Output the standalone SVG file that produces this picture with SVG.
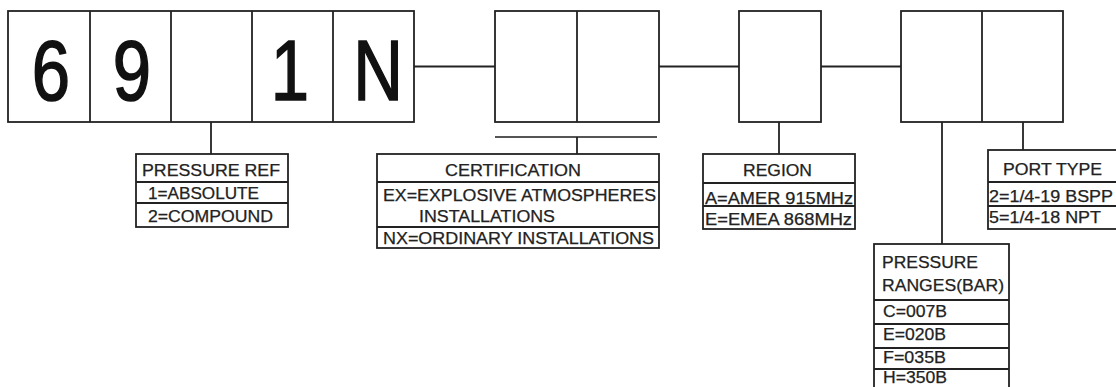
<svg xmlns="http://www.w3.org/2000/svg" width="1116" height="387" viewBox="0 0 1116 387">
<style>
.b{fill:#fff;stroke:#222;stroke-width:1.8}
.l{fill:none;stroke:#222;stroke-width:1.8}
.t{font-family:"Liberation Sans",Arial,sans-serif;font-size:16px;fill:#222;stroke:#222;stroke-width:0.25}
.d{font-family:"Liberation Sans",Arial,sans-serif;font-size:86px;fill:#111;stroke:#111;stroke-width:1.6;text-anchor:middle}
</style>
<rect width="1116" height="387" fill="#fff"/>
<g id="connectors">
<line class="l" x1="414" y1="66.5" x2="495" y2="66.5"/>
<line class="l" x1="659" y1="66.5" x2="739" y2="66.5"/>
<line class="l" x1="821" y1="66.5" x2="901" y2="66.5"/>
<line class="l" x1="211" y1="122" x2="211" y2="154"/>
<line x1="495" y1="137" x2="657" y2="137" stroke="#555" stroke-width="2"/>
<line class="l" x1="577" y1="137" x2="577" y2="154"/>
<line class="l" x1="779" y1="122" x2="779" y2="154"/>
<line class="l" x1="942" y1="122" x2="942" y2="244"/>
<line class="l" x1="1023" y1="122" x2="1023" y2="150"/>
</g>
<g id="code1">
<rect class="b" x="8" y="11" width="406" height="111"/>
<line class="l" x1="90" y1="11" x2="90" y2="122"/>
<line class="l" x1="171" y1="11" x2="171" y2="122"/>
<line class="l" x1="252" y1="11" x2="252" y2="122"/>
<line class="l" x1="333" y1="11" x2="333" y2="122"/>
<text class="d" transform="translate(51,100) scale(0.8,1)">6</text>
<text class="d" transform="translate(132,100) scale(0.8,1)">9</text>
<text class="d" transform="translate(290,100) scale(0.8,1)">1</text>
<text class="d" transform="translate(378,100) scale(0.8,1)">N</text>
</g>
<g id="code2">
<rect class="b" x="495" y="11" width="164" height="111"/>
<line class="l" x1="577" y1="11" x2="577" y2="122"/>
</g>
<g id="code3">
<rect class="b" x="739" y="11" width="82" height="111"/>
</g>
<g id="code4">
<rect class="b" x="901" y="11" width="162" height="111"/>
<line class="l" x1="982" y1="11" x2="982" y2="122"/>
</g>
<g id="pressure-ref">
<rect class="b" x="136" y="154" width="152" height="73"/>
<line class="l" x1="136" y1="182" x2="288" y2="182"/>
<line class="l" x1="136" y1="203" x2="288" y2="203"/>
<text class="t" x="142" y="176" textLength="138" lengthAdjust="spacingAndGlyphs">PRESSURE REF</text>
<text class="t" x="148" y="199" textLength="111" lengthAdjust="spacingAndGlyphs">1=ABSOLUTE</text>
<text class="t" x="148" y="222" textLength="125" lengthAdjust="spacingAndGlyphs">2=COMPOUND</text>
</g>
<g id="certification">
<rect class="b" x="377" y="154" width="282" height="94"/>
<line class="l" x1="377" y1="182" x2="659" y2="182"/>
<line class="l" x1="377" y1="227" x2="659" y2="227"/>
<text class="t" x="445" y="176" textLength="136" lengthAdjust="spacingAndGlyphs">CERTIFICATION</text>
<text class="t" x="383" y="201" textLength="273" lengthAdjust="spacingAndGlyphs">EX=EXPLOSIVE ATMOSPHERES</text>
<text class="t" x="419" y="222" textLength="136" lengthAdjust="spacingAndGlyphs">INSTALLATIONS</text>
<text class="t" x="383" y="244" textLength="271" lengthAdjust="spacingAndGlyphs">NX=ORDINARY INSTALLATIONS</text>
</g>
<g id="region">
<rect class="b" x="703" y="154" width="152" height="75"/>
<line class="l" x1="703" y1="183" x2="855" y2="183"/>
<line class="l" x1="703" y1="206" x2="855" y2="206"/>
<text class="t" x="743" y="176" textLength="69" lengthAdjust="spacingAndGlyphs">REGION</text>
<text class="t" x="705" y="204" textLength="148" lengthAdjust="spacingAndGlyphs">A=AMER 915MHz</text>
<text class="t" x="705" y="225" textLength="147" lengthAdjust="spacingAndGlyphs">E=EMEA 868MHz</text>
</g>
<g id="port-type">
<rect class="b" x="988" y="150" width="140" height="79"/>
<line class="l" x1="988" y1="182" x2="1128" y2="182"/>
<line class="l" x1="988" y1="206" x2="1128" y2="206"/>
<text class="t" x="1003" y="175" textLength="99" lengthAdjust="spacingAndGlyphs">PORT TYPE</text>
<text class="t" x="989" y="202" textLength="124" lengthAdjust="spacingAndGlyphs">2=1/4-19 BSPP</text>
<text class="t" x="989" y="223" textLength="112" lengthAdjust="spacingAndGlyphs">5=1/4-18 NPT</text>
</g>
<g id="pressure-ranges">
<rect class="b" x="874" y="244" width="135" height="160"/>
<line class="l" x1="874" y1="300" x2="1009" y2="300"/>
<line class="l" x1="874" y1="324" x2="1009" y2="324"/>
<line class="l" x1="874" y1="348" x2="1009" y2="348"/>
<line class="l" x1="874" y1="369" x2="1009" y2="369"/>
<text class="t" x="882" y="268" textLength="96" lengthAdjust="spacingAndGlyphs">PRESSURE</text>
<text class="t" x="882" y="291" textLength="122" lengthAdjust="spacingAndGlyphs">RANGES(BAR)</text>
<text class="t" x="883" y="317" textLength="64" lengthAdjust="spacingAndGlyphs">C=007B</text>
<text class="t" x="883" y="340" textLength="63" lengthAdjust="spacingAndGlyphs">E=020B</text>
<text class="t" x="883" y="363" textLength="63" lengthAdjust="spacingAndGlyphs">F=035B</text>
<text class="t" x="883" y="383" textLength="64" lengthAdjust="spacingAndGlyphs">H=350B</text>
</g>
</svg>
